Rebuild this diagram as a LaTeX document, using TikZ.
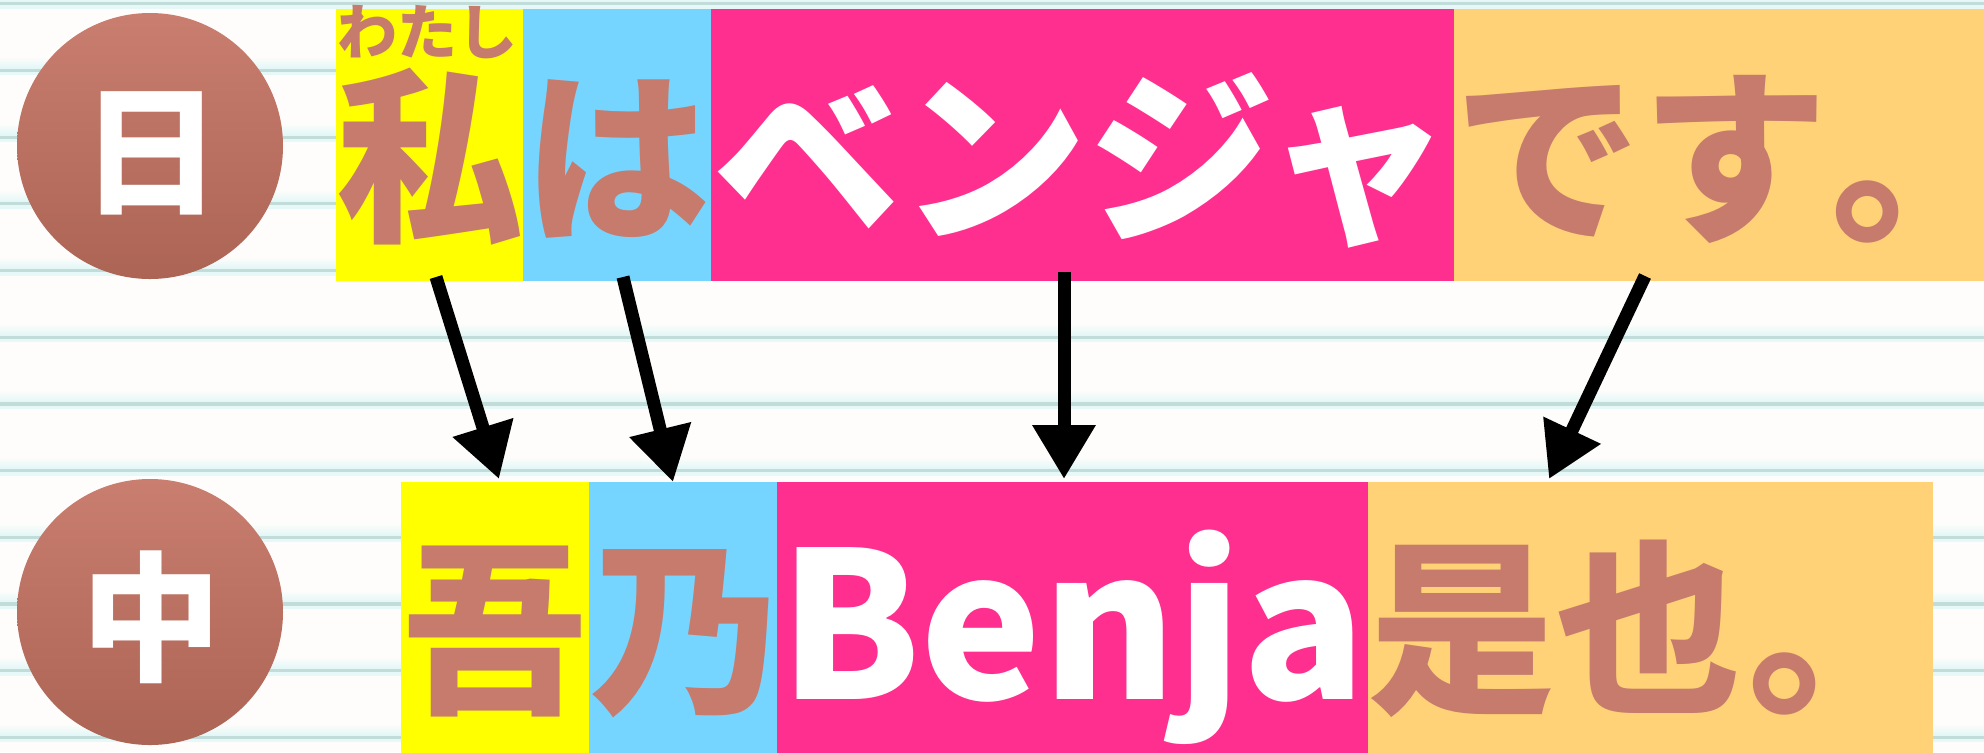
\documentclass[tikz,border=0pt]{standalone}
\usepackage{fontspec}
\newfontfamily\jp{Noto Sans CJK JP}
\usetikzlibrary{arrows.meta}
\definecolor{cyel}{HTML}{FFFF00}
\definecolor{cblue}{HTML}{76D5FF}
\definecolor{cpink}{HTML}{FF2F8F}
\definecolor{corange}{HTML}{FFD277}
\definecolor{cbrown}{HTML}{C77B6D}
\definecolor{cbg}{HTML}{FFFDFB}
\definecolor{cline}{HTML}{C2DDD9}
\definecolor{chalo}{HTML}{DDF6F6}
\definecolor{ctop}{HTML}{C97E6F}
\definecolor{cbot}{HTML}{AC6454}
\begin{document}
\begin{tikzpicture}[x=0.5pt,y=-0.5pt,
  box/.style={draw=none,inner sep=0pt,outer sep=0pt,anchor=north west},
  big/.style={inner sep=0pt,outer sep=0pt,anchor=base,text=cbrown,
    font=\jp\bfseries\fontsize{93.5}{100}\selectfont},
  ruby/.style={inner sep=0pt,outer sep=0pt,anchor=base,text=cbrown,
    font=\jp\bfseries\fontsize{30}{31}\selectfont},
  circ/.style={circle,minimum size=133pt,inner sep=0pt,draw=none,
    top color=ctop,bottom color=cbot},
  circtext/.style={inner sep=0pt,text=white,font=\jp\bfseries\fontsize{70}{70}\selectfont},
  arr/.style={line width=6.5pt,-{Triangle[length=27pt,width=30pt]}}
]
\useasboundingbox (0,0) rectangle (1984,752);
\fill[cbg] (0,0) rectangle (1984,752);
\foreach \k in {0,...,11}{
  \pgfmathsetmacro\yy{3.7+66.7*\k}
  \shade[top color=cbg,bottom color=chalo] (0,\yy-14) rectangle (1984,\yy);
  \fill[chalo!70!cbg] (0,\yy+1.5) rectangle (1984,\yy+5);
  \fill[cline] (0,\yy-1.6) rectangle (1984,\yy+1.6);
}
% circles
\node[circ] (c1) at (150,146) {};
\node[circtext] (c1t) at (151,153) {日};
\node[circ] (c2) at (150,612) {};
\node[circtext] (c2t) at (151,617) {中};
% top row
\node[box,fill=cyel,minimum width=93.5pt,minimum height=136pt] (t1) at (336,9) {};
\node[box,fill=cblue,minimum width=94pt,minimum height=136pt] (t2) at (523,9) {};
\node[box,fill=cpink,minimum width=371.5pt,minimum height=136pt] (t3) at (711,9) {};
\node[box,fill=corange,minimum width=265pt,minimum height=136pt] (t4) at (1454,9) {};
\node[ruby] (r1) at (427,54) {わたし};
\node[big] (w1) at (429.5,227) {私};
\node[big] (w2) at (617,227) {は};
\node[big,text=white] (w3) at (1082.5,227) {ベンジャ};
\node[big,anchor=base west] (w4) at (1454,227) {です\kern2pt\makebox[0.4em][l]{。}};
% bottom row
\node[box,fill=cyel,minimum width=94pt,minimum height=137pt] (b1) at (401,482) {};
\node[box,fill=cblue,minimum width=94pt,minimum height=137pt] (b2) at (589,482) {};
\node[box,fill=cpink,minimum width=295.5pt,minimum height=137pt] (b3) at (777,482) {};
\node[box,fill=corange,minimum width=282.5pt,minimum height=137pt] (b4) at (1368,482) {};
\node[big] (v1) at (495,699) {吾};
\node[big] (v2) at (683,699) {乃};
\node[big,anchor=base west,text=white,font=\jp\bfseries\fontsize{102}{102}\selectfont] (v3) at (779,699) {Benja};
\node[big,anchor=base west] (v4) at (1368,699) {是也\kern3.5pt\makebox[0.4em][l]{。}};
% arrows
\draw[arr] ([xshift=3.25pt,yshift=2pt]t1.south) -- ([xshift=2pt,yshift=1.5pt]b1.north);
\draw[arr] ([xshift=3pt,yshift=2pt]t2.south) -- ([xshift=-5pt,yshift=0pt]b2.north);
\draw[arr] ([xshift=-9.25pt,yshift=4.5pt]t3.south) -- ([xshift=-4.25pt,yshift=1.5pt]b3.north);
\draw[arr] ([xshift=-37pt,yshift=2.5pt]t4.south) -- ([xshift=-50.75pt,yshift=1.5pt]b4.north);
\end{tikzpicture}
\end{document}
